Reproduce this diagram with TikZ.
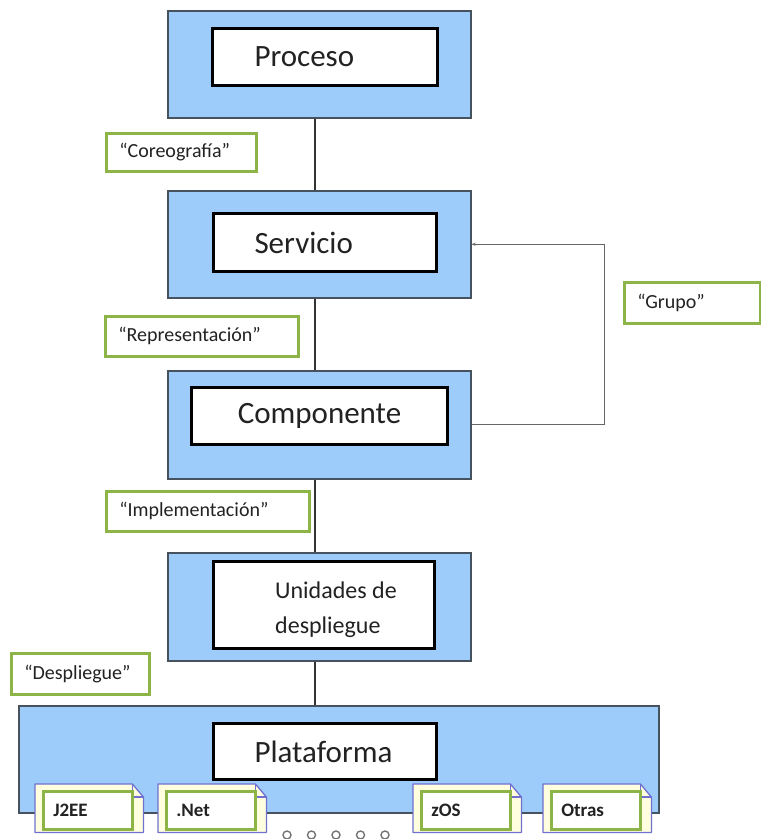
\documentclass[tikz,border=0pt]{standalone}
\usepackage{fontspec}
\setmainfont{Carlito}
\usetikzlibrary{arrows.meta}
\definecolor{boxblue}{HTML}{9DCBFA}
\definecolor{boxborder}{HTML}{46525E}
\definecolor{lblgreen}{HTML}{8DB446}
\definecolor{tabborder}{HTML}{7070D0}
\definecolor{tabfill}{HTML}{FFFFE0}
\definecolor{txt}{HTML}{222222}
\begin{document}
\begin{tikzpicture}[x=1pt,y=-1pt,
  outer/.style={draw=boxborder, line width=1.5pt, fill=boxblue, anchor=north west, inner sep=0pt},
  inner/.style={draw=black, line width=3pt, fill=white, anchor=north west, inner ysep=0pt, text=txt, font=\fontsize{31}{36}\selectfont},
  lbl/.style={draw=lblgreen, line width=2.5pt, fill=white, anchor=north west, inner xsep=13pt, inner ysep=0pt, align=left, text=txt, font=\fontsize{20}{24}\selectfont},
  conn/.style={draw=black!80, line width=1.6pt},
  grp/.style={draw=black!60, line width=1.3pt},
  tabline/.style={draw=tabborder, line width=1.3pt, fill=tabfill, line join=round},
  tabbox/.style={draw=none, anchor=north west, minimum width=108pt, minimum height=48pt, inner sep=0pt},
  tablbl/.style={draw=lblgreen, line width=2.5pt, fill=white, anchor=north west, minimum width=89pt, minimum height=38pt, inner xsep=10pt, inner ysep=0pt, text width=69pt, align=left, text=txt, font=\bfseries\fontsize{19}{22}\selectfont}
]
\useasboundingbox (0,0) rectangle (761,839);

% outer blue boxes
\node[outer, minimum width=303pt, minimum height=107pt] (proc) at (167,10) {};
\node[outer, minimum width=303pt, minimum height=107pt] (serv) at (167,190) {};
\node[outer, minimum width=303pt, minimum height=108pt] (comp) at (167,370) {};
\node[outer, minimum width=303pt, minimum height=108pt] (unid) at (167,552) {};
\node[outer, minimum width=640pt, minimum height=107pt] (plat) at (18,705) {};

% inner white boxes
\node[inner, minimum width=225pt, minimum height=57pt, inner xsep=42pt, text width=141pt, align=left] (procin) at (211,27) {Proceso};
\node[inner, minimum width=223pt, minimum height=58pt, inner xsep=41pt, text width=141pt, align=left] (servin) at (212,212) {Servicio};
\node[inner, minimum width=256pt, minimum height=57pt, inner xsep=10pt, text width=236pt, align=center] (compin) at (190,386) {Componente};
\node[inner, minimum width=221pt, minimum height=87pt] (unidin) at (212,560) {};
\node[anchor=west, inner sep=0pt, align=left, text=txt, font=\fontsize{24}{35}\selectfont] (unidtx) at ([xshift=63pt, yshift=-5pt]unidin.west) {Unidades de\\despliegue};
\node[inner, minimum width=223pt, minimum height=56pt, inner xsep=41pt, text width=141pt, align=left] (platin) at (212,722) {Plataforma};

% connectors
\draw[conn] ([xshift=-4.5pt]proc.south) -- ([xshift=-4.5pt]serv.north);
\draw[conn] ([xshift=-4.5pt]serv.south) -- ([xshift=-4.5pt]comp.north);
\draw[conn] ([xshift=-4.5pt]comp.south) -- ([xshift=-4.5pt]unid.north);
\draw[conn] ([xshift=-4.5pt]unid.south) -- ([xshift=-4.5pt]unid.south |- plat.north);
\draw[grp, -{Stealth[length=4pt,width=3pt]}] (comp.east) -- ++(133,0) |- (serv.east);

% labels
\node[lbl, minimum height=38pt, text width=124pt] (coreo) at (105,132) {“Coreografía”};
\node[lbl, minimum height=40pt, text width=167pt] (repr) at (104,315) {“Representación”};
\node[lbl, minimum height=40pt, text width=177pt] (impl) at (105,490) {“Implementación”};
\node[lbl, minimum height=41pt, text width=112pt] (desp) at (10,652) {“Despliegue”};
\node[lbl, minimum height=41pt, text width=110pt] (grupo) at (623,281) {“Grupo”};

% platform tabs
\foreach \nm/\x/\t in {j2ee/35/J2EE, net/158/.Net, zos/413/zOS, otras/543/Otras} {
  \node[tabbox] (\nm) at (\x,784) {};
  \filldraw[tabline] (\nm.north west) -- ([xshift=-11pt]\nm.north east) -- ([yshift=-13pt]\nm.north east) -- (\nm.south east) -- (\nm.south west) -- cycle;
  \draw[tabline, fill=none] ([xshift=-11pt]\nm.north east) -- ([xshift=-11pt,yshift=-13pt]\nm.north east) -- ([yshift=-13pt]\nm.north east);
  \node[tablbl] (\nm-l) at (\x+7,790) {\t};
}

% dots
\foreach \i in {0,...,4}
  \draw[black!55, line width=1.4pt] (287+\i*24.5,835) circle (4);
\end{tikzpicture}
\end{document}
